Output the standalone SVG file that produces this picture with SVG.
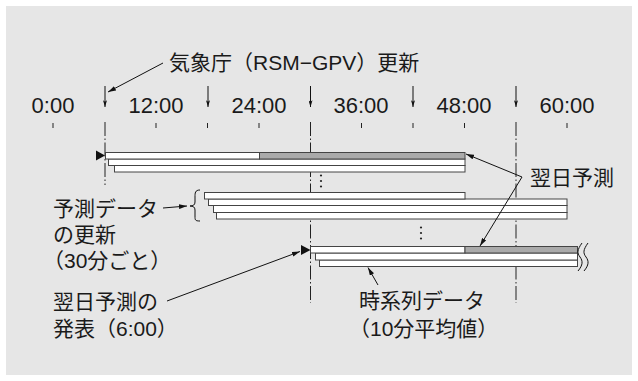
<svg xmlns="http://www.w3.org/2000/svg" width="638" height="381" viewBox="0 0 638 381">
<style>
.bg{fill:#e6e6e6}
.t{font-family:"Liberation Sans","Noto Sans CJK JP",sans-serif;fill:#1a1a1a}
.jp{font-size:21px}
.time{font-size:22px;text-anchor:middle}
.tick{stroke:#222;stroke-width:1}
.dd{stroke:#222;stroke-width:1;stroke-dasharray:14 2.5 1.5 2.5;fill:none}
.bar{fill:#fff;stroke:#444;stroke-width:1}
.fc{fill:#aaa;stroke:#444;stroke-width:1}
.ln{stroke:#111;stroke-width:1;fill:none}
.tri{fill:#111}
.dot{fill:#222}
</style>
<defs>
<marker id="ah" viewBox="0 0 10 6" refX="10" refY="3" markerWidth="8" markerHeight="5" markerUnits="userSpaceOnUse" orient="auto">
<path d="M0,0 L10,3 L0,6 z" fill="#111"/>
</marker>
<marker id="dn" viewBox="0 0 6 10" refX="3" refY="10" markerWidth="4" markerHeight="7" markerUnits="userSpaceOnUse" orient="0">
<path d="M0,0 L3,10 L6,0 L3,2 z" fill="#111"/>
</marker>
</defs>
<rect class="bg" x="6" y="6" width="626" height="369"/>

<g id="axis">
<g class="t time">
<text x="53" y="113">0:00</text>
<text x="156" y="113">12:00</text>
<text x="259" y="113">24:00</text>
<text x="361" y="113">36:00</text>
<text x="464" y="113">48:00</text>
<text x="567" y="113">60:00</text>
</g>
<g class="tick">
<line x1="53" y1="123" x2="53" y2="128"/>
<line x1="156" y1="123" x2="156" y2="128"/>
<line x1="207.5" y1="123" x2="207.5" y2="128"/>
<line x1="259" y1="123" x2="259" y2="128"/>
<line x1="361.5" y1="123" x2="361.5" y2="128"/>
<line x1="413" y1="123" x2="413" y2="128"/>
<line x1="464.5" y1="123" x2="464.5" y2="128"/>
<line x1="567" y1="123" x2="567" y2="128"/>
</g>
<g class="dd">
<line x1="105" y1="122" x2="105" y2="185"/>
<line x1="310.5" y1="122" x2="310.5" y2="303"/>
<line x1="516" y1="122" x2="516" y2="303"/>
</g>
</g>

<g id="update-arrows" class="ln">
<line x1="105" y1="86" x2="105" y2="107" marker-end="url(#dn)"/>
<line x1="208" y1="86" x2="208" y2="107" marker-end="url(#dn)"/>
<line x1="310.5" y1="86" x2="310.5" y2="107" marker-end="url(#dn)"/>
<line x1="413" y1="86" x2="413" y2="107" marker-end="url(#dn)"/>
<line x1="516" y1="86" x2="516" y2="107" marker-end="url(#dn)"/>
</g>

<g id="forecast-1">
<rect class="bar" x="114.5" y="165.5" width="350.5" height="6.5"/>
<rect class="bar" x="108.5" y="159" width="356.5" height="6.5"/>
<rect class="bar" x="105.5" y="152.5" width="154" height="6.5"/>
<rect class="fc" x="259.5" y="152.5" width="205.5" height="6.5"/>
<path class="tri" d="M96,150.5 L105,155.5 L96,160.5 z"/>
</g>

<g id="dots-1" class="dot">
<circle cx="321" cy="175.5" r="1.1"/>
<circle cx="321" cy="181" r="1.1"/>
<circle cx="321" cy="186.5" r="1.1"/>
</g>

<g id="forecast-2">
<rect class="bar" x="216.5" y="212.5" width="350.5" height="6.5"/>
<rect class="bar" x="213.5" y="205.5" width="353.5" height="7"/>
<rect class="bar" x="208.5" y="199" width="358.5" height="6.5"/>
<rect class="bar" x="204.5" y="192.5" width="260.5" height="6.5"/>
</g>

<g id="dots-2" class="dot">
<circle cx="421" cy="227.5" r="1.1"/>
<circle cx="421" cy="233" r="1.1"/>
<circle cx="421" cy="238.5" r="1.1"/>
</g>

<g id="forecast-3">
<rect class="bar" x="319.5" y="260" width="258" height="6.5"/>
<rect class="bar" x="315.5" y="253" width="262" height="7"/>
<rect class="bar" x="310.5" y="246.5" width="154.5" height="6.5"/>
<rect class="fc" x="465" y="246.5" width="112.5" height="6.5"/>
<path class="tri" d="M301,245 L310.5,250 L301,255 z"/>
<path class="ln" d="M582,243 C577,250 577,253 580,257 C583,261 583,265 578,271"/>
<path class="ln" d="M588,243 C583,250 583,253 586,257 C589,261 589,265 584,271"/>
</g>

<g id="brace">
<path class="ln" d="M200,190 C195,190 195,193 195,197 L195,202 C195,205 193,206 190,206 C193,206 195,207 195,210 L195,216 C195,220 195,221 200,221"/>
</g>

<g id="labels" class="t jp">
<text x="169" y="70">気象庁（RSM−GPV）更新</text>
<text x="53" y="216">予測データ</text>
<text x="53" y="242">の更新</text>
<text x="43" y="268">（30分ごと）</text>
<text x="53" y="309">翌日予測の</text>
<text x="53" y="336">発表（6:00）</text>
<text x="530" y="185">翌日予測</text>
<text x="359" y="308">時系列データ</text>
<text x="349" y="336">（10分平均値）</text>
</g>

<g id="connectors" class="ln">
<line x1="163" y1="63" x2="108" y2="92" marker-end="url(#ah)"/>
<line x1="163" y1="208" x2="187" y2="206" marker-end="url(#ah)"/>
<line x1="167" y1="301" x2="300" y2="251.5" marker-end="url(#ah)"/>
<line x1="522" y1="177" x2="466" y2="154" marker-end="url(#ah)"/>
<line x1="522" y1="177" x2="480" y2="246" marker-end="url(#ah)"/>
<line x1="378" y1="285" x2="368" y2="267.5" marker-end="url(#ah)"/>
</g>
</svg>
